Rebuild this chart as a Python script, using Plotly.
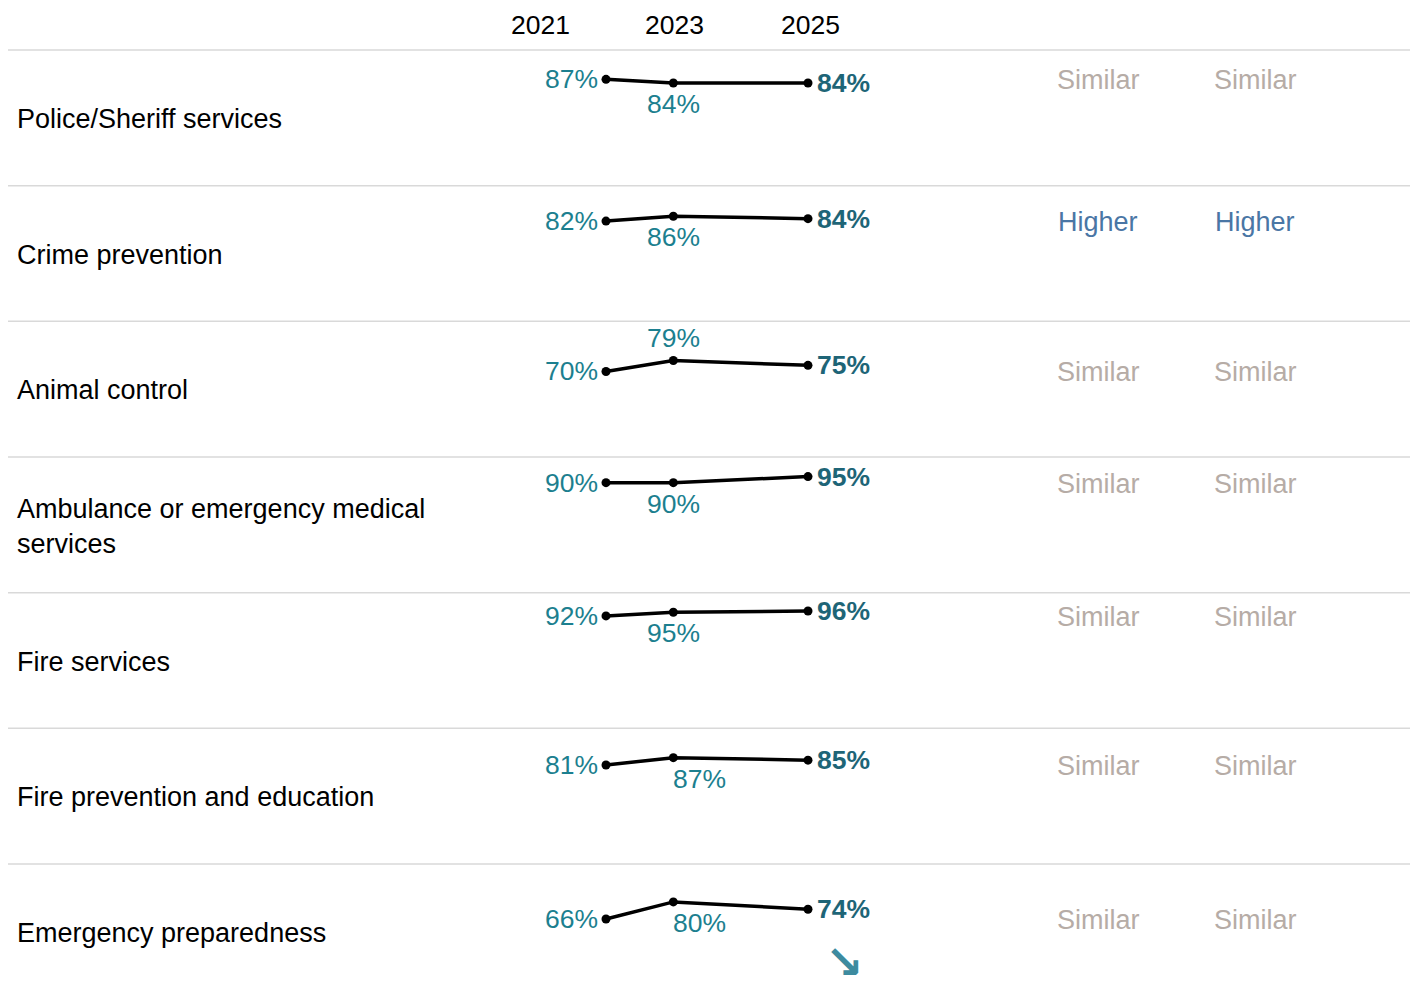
import plotly.graph_objects as go

# ---------------- data ----------------
categories = [
    "Police/Sheriff services",
    "Crime prevention",
    "Animal control",
    "Ambulance or emergency medical<br>services",
    "Fire services",
    "Fire prevention and education",
    "Emergency preparedness",
]
years = ["2021", "2023", "2025"]
v2021 = [87, 82, 70, 90, 92, 81, 66]
v2023 = [84, 86, 79, 90, 95, 87, 80]
v2025 = [84, 84, 75, 95, 96, 85, 74]
compare_a = ["Similar", "Higher", "Similar", "Similar", "Similar", "Similar", "Similar"]
compare_b = ["Similar", "Higher", "Similar", "Similar", "Similar", "Similar", "Similar"]
trend = ["", "", "", "", "", "", "↘"]

# ---------------- layout / style ----------------
W, H = 1418, 996
OFF = 8  # page body margin: figure starts 8px in from the window edge
FONT = "Liberation Sans, Arial, Helvetica, sans-serif"
TEAL = "#1c7f8f"
TEAL_DARK = "#1e6577"
SIMILAR = "#b6aca6"
HIGHER = "#4a76a5"
ARROW = "#3d8b9f"
GRID = "#d9d9d9"


def px_x(p):
    return (p - OFF) / W


def px_y(p):
    return 1 - (p - OFF) / H


X_SLOT = {"2021": 0, "2023": 1, "2025": 3}   # horizontal slot of each year in the sparkline
SLOT_PX = 67.33
X0_PX = 606 - OFF
x_range = [-X0_PX / SLOT_PX, (W - X0_PX) / SLOT_PX]

ROW_TOP0 = 50
ROW_H = 135.67
Y_TOP = 111.0          # value at the top of each row
PX_PER_UNIT = ROW_H / Y_TOP

POS_2023 = ["below", "below", "above", "below", "below", "below_right", "below_right"]

fig = go.Figure()
annotations = []
shapes = []

n = len(categories)
for i in range(n):
    top_px = ROW_TOP0 + i * ROW_H - OFF
    bot_px = min(top_px + ROW_H, H)
    dom = [1 - bot_px / H, 1 - top_px / H]
    y_low = Y_TOP - (bot_px - top_px) / PX_PER_UNIT
    ax = "" if i == 0 else str(i + 1)
    xa, ya = "x" + ax, "y" + ax

    fig.add_trace(go.Scatter(
        x=[X_SLOT[y] for y in years],
        y=[v2021[i], v2023[i], v2025[i]],
        mode="lines+markers",
        line=dict(color="black", width=3.5),
        marker=dict(color="black", size=9),
        xaxis=xa, yaxis=ya, showlegend=False, hoverinfo="skip",
    ))

    fig.layout["xaxis" + ax] = dict(range=x_range, domain=[0, 1], visible=False,
                                    fixedrange=True, anchor=ya)
    fig.layout["yaxis" + ax] = dict(range=[y_low, Y_TOP], domain=dom, visible=False,
                                    fixedrange=True, anchor=xa)

    annotations.append(dict(
        xref=xa, yref=ya, x=X_SLOT["2021"], y=v2021[i], text=f"{v2021[i]}%",
        showarrow=False, xanchor="right", yanchor="middle", xshift=-6,
        font=dict(family=FONT, size=26.5, color=TEAL)))
    p = POS_2023[i]
    if p == "below":
        kw = dict(xanchor="center", yshift=-21)
    elif p == "above":
        kw = dict(xanchor="center", yshift=22)
    else:
        kw = dict(xanchor="left", yshift=-21, xshift=-2)
    annotations.append(dict(
        xref=xa, yref=ya, x=X_SLOT["2023"], y=v2023[i], text=f"{v2023[i]}%",
        showarrow=False, yanchor="middle",
        font=dict(family=FONT, size=26.5, color=TEAL), **kw))
    annotations.append(dict(
        xref=xa, yref=ya, x=X_SLOT["2025"], y=v2025[i], text=f"<b>{v2025[i]}%</b>",
        showarrow=False, xanchor="left", yanchor="middle", xshift=7,
        font=dict(family=FONT, size=26.5, color=TEAL_DARK)))
    if trend[i]:
        annotations.append(dict(
            xref=xa, yref=ya, x=X_SLOT["2025"], y=v2025[i], text=f"<b>{trend[i]}</b>",
            showarrow=False, xanchor="center", yanchor="middle", xshift=37, yshift=-53,
            font=dict(family="DejaVu Sans", size=46, color=ARROW)))

    for xp, val in ((1098, compare_a[i]), (1255, compare_b[i])):
        annotations.append(dict(
            xref="paper", yref=ya, x=px_x(xp), y=v2021[i], text=val,
            showarrow=False, xanchor="center", yanchor="middle", yshift=-1,
            font=dict(family=FONT, size=27, color=HIGHER if val == "Higher" else SIMILAR)))

    annotations.append(dict(
        xref="paper", yref="paper", x=px_x(15), y=1 - (top_px + 69) / H, text=categories[i],
        showarrow=False, xanchor="left", yanchor="middle", align="left",
        font=dict(family=FONT, size=27, color="black")))

    shapes.append(dict(type="line", xref="paper", yref="paper",
                       x0=px_x(8), x1=px_x(1416), y0=1 - top_px / H, y1=1 - top_px / H,
                       line=dict(color=GRID, width=1.5)))

for yr, xpx in zip(years, (540, 674, 810)):
    annotations.append(dict(
        xref="paper", yref="paper", x=px_x(xpx), y=px_y(25), text=yr,
        showarrow=False, xanchor="center", yanchor="middle",
        font=dict(family=FONT, size=26.5, color="black")))

fig.update_layout(
    width=W, height=H,
    margin=dict(l=0, r=0, t=0, b=0),
    paper_bgcolor="white", plot_bgcolor="white",
    annotations=annotations, shapes=shapes,
    showlegend=False,
)

fig.write_html("out.html", config={"displayModeBar": False})
